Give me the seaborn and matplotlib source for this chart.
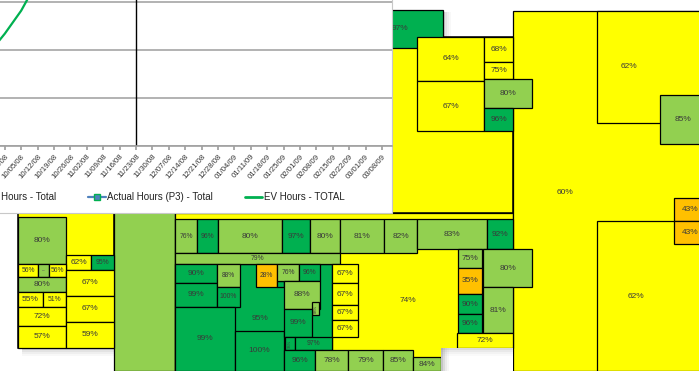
import matplotlib
matplotlib.use("Agg")
import numpy as np
import matplotlib.pyplot as plt
import seaborn as sns
from matplotlib.colors import ListedColormap, BoundaryNorm
from matplotlib.patches import Rectangle
from matplotlib.lines import Line2D

sns.set_theme(style="white")
plt.rcParams["font.family"] = ["Liberation Sans", "DejaVu Sans"]

# ---------------- hours chart data ----------------
week_labels = ["08/03/08", "08/10/08", "08/17/08", "08/24/08", "08/31/08", "09/07/08",
               "09/14/08", "09/21/08", "09/28/08", "10/05/08", "10/12/08", "10/19/08",
               "10/26/08", "11/02/08", "11/09/08", "11/16/08", "11/23/08", "11/30/08",
               "12/07/08", "12/14/08", "12/21/08", "12/28/08", "01/04/09", "01/11/09",
               "01/18/09", "01/25/09", "02/01/09", "02/08/09", "02/15/09", "02/22/09",
               "03/01/09", "03/08/09"]
ev_hours = [2600, 3300, 4100, 4900, 5800, 6800, 7900, 9600, 11700, 14100, 17200,
            20500, 24000, 27500, 31000, 34500, 38000]
status_week = "11/23/08"
first_labelled_week = "09/28/08"
legend_labels = ["Planned Hours - Total", "Actual Hours (P3) - Total", "EV Hours - TOTAL"]
hour_gridlines = [0, 5000, 10000, 15000, 20000, 25000]

# ---------------- treemap values (percent complete) ----------------
group_values = [65.0, 70.0]
cell_values = [
    85.0, 74.0, 95.0, 97.0, 60.0,
    # left block
    80.0, 62.0, 95.0, 56.0, 80.0, 56.0, 80.0, 55.0, 51.0, 72.0, 57.0, 67.0, 67.0, 59.0,
    # top row of the middle block
    76.0, 96.0, 80.0, 97.0, 80.0, 81.0, 82.0, 83.0, 92.0, 79.0,
    # dark green cluster
    90.0, 99.0, 88.0, 100.0, 99.0, 100.0, 28.0, np.nan, 76.0, 96.0, 88.0, 88.0, 99.0,
    96.0, 97.0, 96.0, 78.0, 79.0, 85.0, 84.0,
    # 67% stack and right column of middle block
    67.0, 67.0, 67.0, 67.0, 75.3, 35.0, 90.0, 96.0, 80.0, 81.0, 72.0,
    # upper yellow block
    64.0, 67.0, 68.0, 74.6, 80.0, 96.0,
    # right block
    62.0, 62.0, 85.0, 43.0, 43.0,
]
dash_label_cells = {9}
unlabelled_cells = {0}

# ---------------- treemap layout (pixel boxes x0, y0, x1, y1) ----------------
group_boxes = [(18, 120, 114, 348), (357, 37, 513, 213)]
cell_boxes = [
    (114, 10, 175, 371), (175, 213, 513, 371), (175, 264, 332, 371), (357, 10, 443, 48),
    (513, 11, 709, 371),
    (18, 217, 66, 264), (66, 255, 91, 270), (91, 255, 114, 270), (18, 264, 38, 277),
    (38, 264, 49, 277), (49, 264, 66, 277), (18, 277, 66, 292), (18, 292, 43, 307),
    (43, 292, 66, 307), (18, 307, 66, 326), (18, 326, 66, 348), (66, 270, 114, 296),
    (66, 296, 114, 322), (66, 322, 114, 348),
    (175, 219, 197, 253), (197, 219, 218, 253), (218, 219, 282, 253), (282, 219, 310, 253),
    (310, 219, 340, 253), (340, 219, 384, 253), (384, 219, 417, 253), (417, 219, 487, 249),
    (487, 219, 513, 249), (175, 253, 340, 264),
    (175, 264, 217, 283), (175, 283, 217, 307), (217, 264, 240, 287), (217, 287, 240, 307),
    (175, 307, 235, 371), (235, 331, 284, 371), (256, 264, 277, 287), (277, 281, 284, 287),
    (277, 264, 299, 281), (299, 264, 320, 281), (284, 281, 320, 309), (312, 302, 319, 315),
    (284, 309, 312, 337), (285, 337, 295, 350), (295, 337, 332, 350), (284, 350, 315, 371),
    (315, 350, 348, 371), (348, 350, 383, 371), (383, 350, 413, 371), (413, 357, 441, 371),
    (332, 264, 358, 283), (332, 283, 358, 305), (332, 305, 358, 320), (332, 320, 358, 337),
    (458, 249, 482, 268), (458, 268, 482, 294), (458, 294, 482, 314), (458, 314, 482, 333),
    (483, 249, 532, 287), (483, 287, 513, 333), (457, 333, 513, 348),
    (417, 37, 484, 81), (417, 81, 484, 131), (484, 37, 513, 62), (484, 62, 513, 79),
    (484, 79, 532, 108), (484, 108, 513, 131),
    (597, 11, 709, 123), (597, 221, 709, 371), (660, 95, 706, 144), (674, 198, 706, 221),
    (674, 221, 706, 244),
]
label_anchor = {1: (408, 301), 2: (260, 318), 4: (565, 192), 66: (629, 67), 67: (636, 297)}

W, H = 699, 371
fig = plt.figure(figsize=(W / 100, H / 100), dpi=100)
fig.patch.set_facecolor("white")
ax = fig.add_axes([0, 0, 1, 1])
ax.set_xlim(0, W)
ax.set_ylim(H, 0)
ax.axis("off")

status_cmap = ListedColormap(["#FFC000", "#FFFF00", "#92D050", "#00B050"])
status_cmap.set_bad("#A6A6A6")
status_norm = BoundaryNorm([0, 50, 75, 90, 101], status_cmap.N)


def colour_of(v):
    return status_cmap(status_norm(np.ma.masked_invalid(v)))


for (x0, y0, x1, y1), v in zip(group_boxes, group_values):
    ax.add_patch(Rectangle((x0, y0), x1 - x0, y1 - y0, facecolor=colour_of(v),
                           edgecolor="black", linewidth=1.1, zorder=1))

# soft drop shadows
for k, a in enumerate([0.35, 0.22, 0.12, 0.05]):
    ax.add_patch(Rectangle((22, 348 + 2 * k), 94, 2, facecolor="gray", alpha=a,
                           linewidth=0, zorder=0.5))
    ax.add_patch(Rectangle((443 + 2 * k, 12), 2, 25, facecolor="gray", alpha=a,
                           linewidth=0, zorder=0.5))

for i, ((x0, y0, x1, y1), v) in enumerate(zip(cell_boxes, cell_values)):
    w, h = x1 - x0, y1 - y0
    ax.add_patch(Rectangle((x0, y0), w, h, facecolor=colour_of(v), edgecolor="black",
                           linewidth=0.9, zorder=2 + i * 0.01))
    if np.isnan(v) or i in unlabelled_cells:
        continue
    cx, cy = label_anchor.get(i, ((x0 + x1) / 2, (y0 + y1) / 2))
    if i in dash_label_cells:
        ax.text(cx, cy, "–", fontsize=3.5, color="#555555", ha="center", va="center", zorder=5)
        continue
    if w < 12:
        ax.text(cx, cy, f"{v:.0f}%", fontsize=3.0, rotation=90, color="#3a3a3a",
                ha="center", va="center", zorder=5)
    else:
        fs = 6.0 if (w >= 24 and h >= 14) else 4.9
        ax.text(cx, cy, f"{v:.0f}%", fontsize=fs, color="#3a3a3a",
                ha="center", va="center", zorder=5)

# empty corner at the bottom of the middle block
ax.add_patch(Rectangle((441, 348), 72, 25, facecolor="white", edgecolor="none", zorder=4))
for k, a in enumerate([0.45, 0.28, 0.15, 0.06]):
    ax.add_patch(Rectangle((441 + 2 * k, 348), 2, 25, facecolor="gray", alpha=a,
                           linewidth=0, zorder=4.1))
    ax.add_patch(Rectangle((441, 348 + 2 * k), 72, 2, facecolor="gray", alpha=a * 0.6,
                           linewidth=0, zorder=4.1))

# white panel that holds the hours chart
ax.add_patch(Rectangle((-5, -5), 397, 218, facecolor="white", edgecolor="#C8C8C8",
                       linewidth=0.8, zorder=20))

# ---------------- hours chart ----------------
px_per_week = 16.4
status_idx = week_labels.index(status_week)
first_idx = week_labels.index(first_labelled_week)
x_lo, x_hi = -0.6, len(week_labels) - 0.4
left_px = 136 + (x_lo - status_idx) * px_per_week
right_px = 136 + (x_hi - status_idx) * px_per_week
base_px, top_px = 146, 146 - 5 * 48
ax2 = fig.add_axes([left_px / W, (H - base_px) / H, (right_px - left_px) / W,
                    (base_px - top_px) / H])
ax2.patch.set_alpha(0)
ax2.set_zorder(30)

sns.lineplot(x=np.arange(len(ev_hours)), y=ev_hours, ax=ax2, color="#00B050",
             linewidth=1.6)
ax2.axvline(status_idx, color="black", linewidth=1.0)

ax2.set_xlim(x_lo, x_hi)
ax2.set_ylim(hour_gridlines[0], hour_gridlines[-1])
ax2.set_yticks(hour_gridlines)
ax2.set_yticklabels([])
ax2.yaxis.grid(True, color="#A6A6A6", linewidth=1.2)
ax2.xaxis.grid(False)
ax2.set_xticks(np.arange(first_idx, len(week_labels)))
ax2.set_xticklabels(week_labels[first_idx:], rotation=48, ha="right",
                    rotation_mode="anchor", fontsize=5.6, color="#333333")
ax2.tick_params(axis="x", length=3, color="#A0A0A0", pad=2, bottom=True)
ax2.tick_params(axis="y", length=0)
for side in ["top", "right", "left"]:
    ax2.spines[side].set_visible(False)
ax2.spines["bottom"].set_color("#A0A0A0")
ax2.spines["bottom"].set_linewidth(1.2)
ax2.set_xlabel("")
ax2.set_ylabel("")

handles = [
    Line2D([], [], color="#1F497D", linewidth=1.6),
    Line2D([], [], color="#4F81BD", linewidth=1.6, marker="s", markersize=4,
           markerfacecolor="#4F81BD", markeredgecolor="#00B050"),
    Line2D([], [], color="#00B050", linewidth=2.0),
]
ax2.legend(handles, legend_labels, ncol=3, loc="center left",
           bbox_to_anchor=(-56 / W, 1 - 197 / H), bbox_transform=fig.transFigure,
           frameon=False, fontsize=7.0, handlelength=1.8, handletextpad=0.15,
           columnspacing=3.3, borderpad=0, borderaxespad=0, labelcolor="#222222")

fig.savefig("out.png", dpi=100, facecolor="white")
